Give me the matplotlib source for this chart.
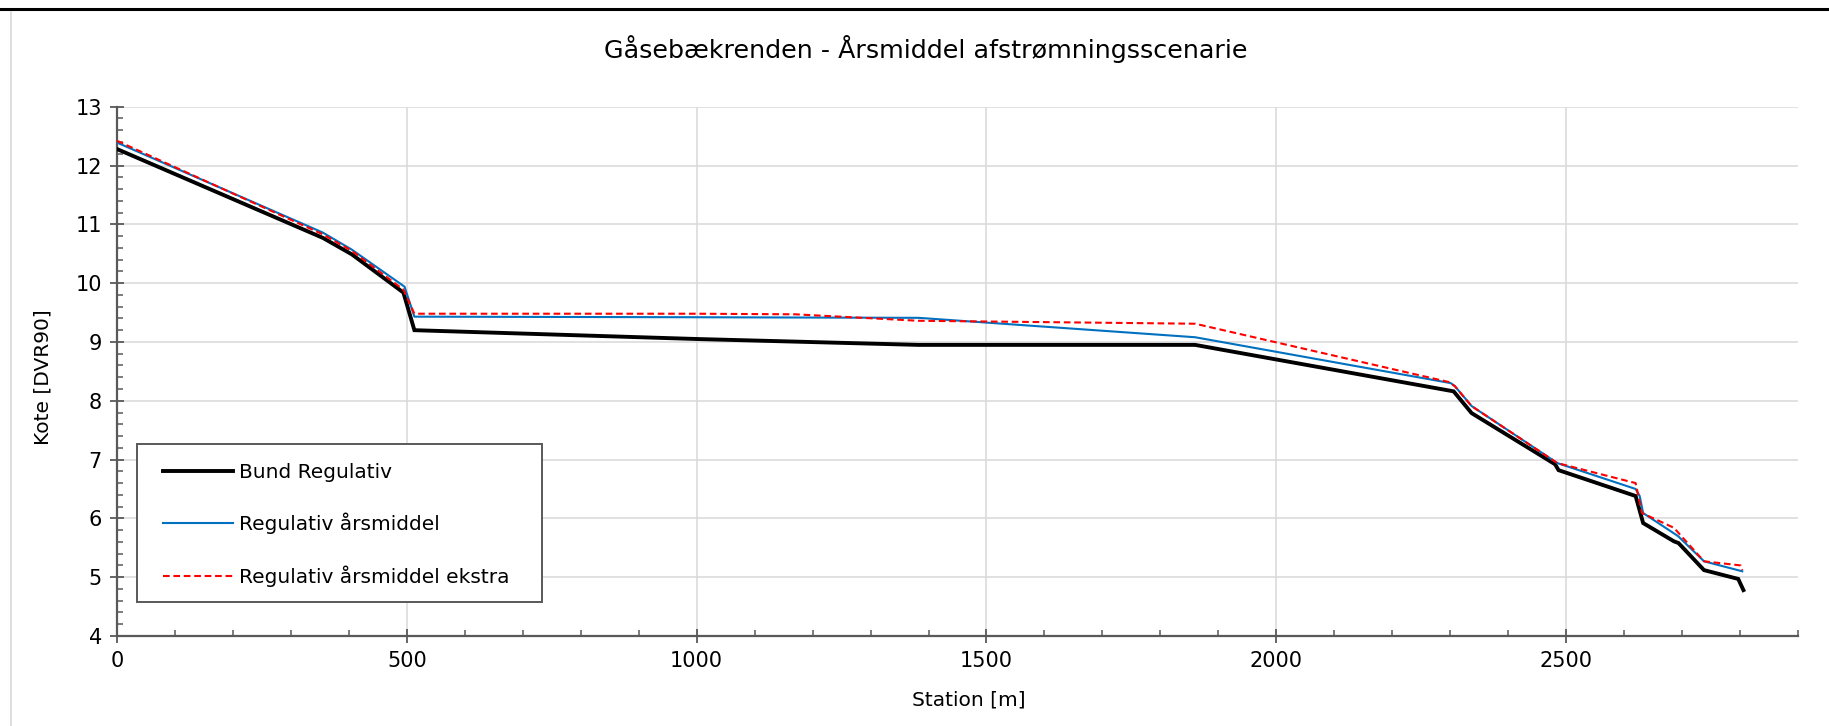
import matplotlib
matplotlib.use("Agg")
import matplotlib.pyplot as plt
from matplotlib.lines import Line2D
from matplotlib.patches import Rectangle
from matplotlib.ticker import MultipleLocator

# Bund Regulativ (bottom level)
bund_station = [0, 355, 405, 494, 513, 1000, 1383, 1860, 2306, 2337,
                2481, 2487, 2620, 2633, 2686, 2694, 2738, 2797, 2806]
bund_kote = [12.28, 10.77, 10.49, 9.84, 9.20, 9.05, 8.95, 8.95, 8.16, 7.79,
             6.92, 6.82, 6.38, 5.92, 5.61, 5.58, 5.12, 4.97, 4.78]

# Regulativ årsmiddel
aars_station = [0, 355, 405, 496, 513, 1000, 1383, 1860, 2301, 2308, 2337,
                2485, 2620, 2627, 2633, 2693, 2738, 2804]
aars_kote = [12.39, 10.86, 10.57, 9.94, 9.43, 9.42, 9.41, 9.08, 8.30, 8.25, 7.91,
             6.94, 6.50, 6.38, 6.09, 5.70, 5.27, 5.10]

# Regulativ årsmiddel ekstra
ekstra_station = [0, 355, 405, 494, 513, 1000, 1170, 1383, 1860, 2297, 2308,
                  2337, 2485, 2620, 2631, 2686, 2738, 2801, 2804]
ekstra_kote = [12.42, 10.83, 10.55, 9.89, 9.48, 9.48, 9.47, 9.36, 9.31, 8.32, 8.25,
               7.91, 6.94, 6.60, 6.09, 5.84, 5.27, 5.20, 5.12]

AXIS_GREY = "#595959"
GRID_GREY = "#d9d9d9"

plt.rcParams["font.family"] = ["DejaVu Sans"]

fig = plt.figure(figsize=(18.29, 7.26), dpi=100)
ax = fig.add_axes([0.064, 0.124, 0.919, 0.729])

ax.plot(bund_station, bund_kote, color="black", lw=2.8, label="Bund Regulativ",
        solid_joinstyle="miter", zorder=3)
ax.plot(aars_station, aars_kote, color="#0070C0", lw=1.5, label="Regulativ årsmiddel",
        zorder=4)
ax.plot(ekstra_station, ekstra_kote, color="#FF0000", lw=1.5, linestyle=(0, (3.2, 1.8)),
        label="Regulativ årsmiddel ekstra", zorder=5)

ax.set_xlim(0, 2900)
ax.set_ylim(4, 13)
ax.xaxis.set_major_locator(MultipleLocator(500))
ax.xaxis.set_minor_locator(MultipleLocator(100))
ax.yaxis.set_major_locator(MultipleLocator(1))
ax.yaxis.set_minor_locator(MultipleLocator(0.2))

ax.grid(True, which="major", color=GRID_GREY, lw=1.1)
ax.set_axisbelow(True)

for side in ["top", "right"]:
    ax.spines[side].set_visible(False)
for side in ["left", "bottom"]:
    ax.spines[side].set_color(AXIS_GREY)
    ax.spines[side].set_linewidth(1.6)

ax.tick_params(which="major", direction="inout", length=10, width=1.3,
               color=AXIS_GREY, labelsize=15, pad=6)
ax.tick_params(which="minor", direction="in", length=4.5, width=1.1, color=AXIS_GREY)

ax.set_xlabel("Station [m]", fontsize=14.5, va="center")
ax.xaxis.set_label_coords(0.507, -0.121)
ax.set_ylabel("Kote [DVR90]", fontsize=14.5, va="center")
ax.yaxis.set_label_coords(-0.044, 0.49)

fig.text(0.506, 0.9325, "Gåsebækrenden - Årsmiddel afstrømningsscenarie",
         fontsize=18.3, ha="center", va="center")

# legend entries without their own frame, box drawn separately
leg = ax.legend(loc="center left", bbox_to_anchor=(0.0275, 0.2097), fontsize=14.5,
                frameon=False, handlelength=3.48, handletextpad=0.3,
                labelspacing=1.52, borderpad=0, borderaxespad=0)
leg.set_zorder(7)
ax.add_patch(Rectangle((0.0116, 0.0644), 0.2415, 0.2976, transform=ax.transAxes,
                       facecolor="white", edgecolor=AXIS_GREY, lw=1.4, zorder=6))

# page decoration around the chart
fig.add_artist(Line2D([0, 1], [1 - 9 / 726, 1 - 9 / 726], color="black", lw=2.2))
fig.add_artist(Line2D([11 / 1829, 11 / 1829], [0, 1 - 12 / 726], color=GRID_GREY, lw=1.2))

fig.savefig("out.png", dpi=100)
